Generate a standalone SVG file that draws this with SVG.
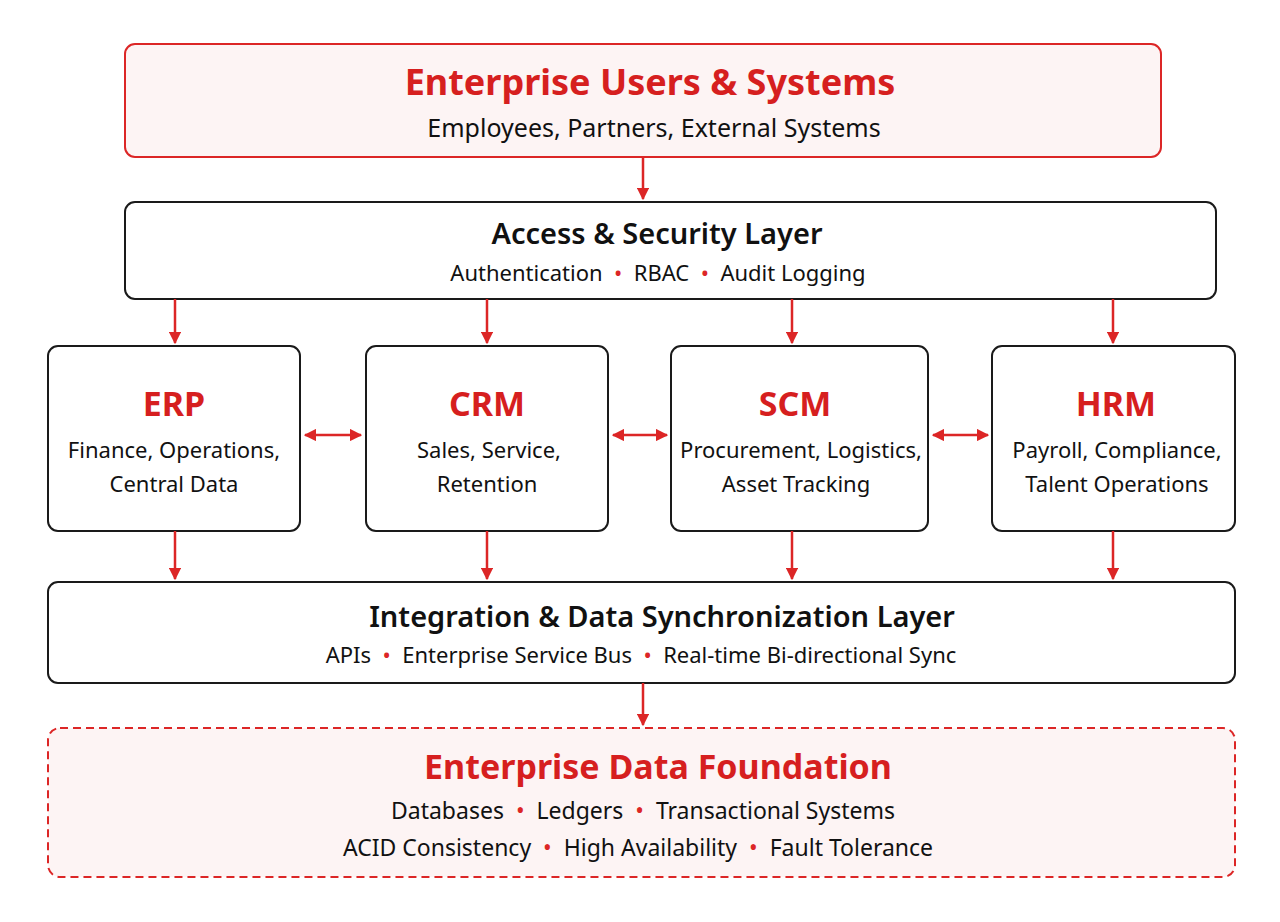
<svg xmlns="http://www.w3.org/2000/svg" width="1280" height="922" viewBox="0 0 1280 922">
<defs>
<style>
text{font-family:"Noto Sans","Open Sans","Liberation Sans",sans-serif;text-anchor:middle;fill:#111}
.box{fill:#fff;stroke:#1a1a1a;stroke-width:2}
.red{fill:#fdf4f4;stroke:#dc2626;stroke-width:2}
.t1{font-size:34px;font-weight:700;fill:#d61f1f}
.t2{font-size:29px;font-weight:600}
.s{font-size:23px}
.s2{font-size:22px}
.b{fill:#dc2626}
.c{stroke:#dc2626;stroke-width:2.5;fill:none}
</style>
<marker id="ah" viewBox="0 0 10 10" refX="9" refY="5" markerWidth="5" markerHeight="5" orient="auto-start-reverse"><path d="M0,0 L10,5 L0,10 Z" fill="#dc2626"/></marker>
</defs>
<rect width="1280" height="922" fill="#fff"/>
<g id="users"><rect class="red" x="125" y="44" width="1036" height="113" rx="10"/>
<text class="t1" x="650" y="95" style="font-size:36px">Enterprise Users &amp; Systems</text>
<text class="s" x="654" y="137" style="font-size:25px">Employees, Partners, External Systems</text></g>
<g id="access"><rect class="box" x="125" y="202" width="1091" height="97" rx="10"/>
<text class="t2" x="657" y="244">Access &amp; Security Layer</text>
<text class="s2" x="658" y="281">Authentication&#160;&#160;<tspan class="b">•</tspan>&#160;&#160;RBAC&#160;&#160;<tspan class="b">•</tspan>&#160;&#160;Audit Logging</text></g>
<g id="erp"><rect class="box" x="48" y="346" width="252" height="185" rx="10"/>
<text class="t1" x="174" y="416">ERP</text>
<text class="s2" x="174" y="458">Finance, Operations,</text><text class="s2" x="174" y="492">Central Data</text></g>
<g id="crm"><rect class="box" x="366" y="346" width="242" height="185" rx="10"/>
<text class="t1" x="487" y="416">CRM</text>
<text class="s2" x="489" y="458">Sales, Service,</text><text class="s2" x="487" y="492">Retention</text></g>
<g id="scm"><rect class="box" x="671" y="346" width="257" height="185" rx="10"/>
<text class="t1" x="795" y="416">SCM</text>
<text class="s2" x="801" y="458">Procurement, Logistics,</text><text class="s2" x="796" y="492">Asset Tracking</text></g>
<g id="hrm"><rect class="box" x="992" y="346" width="243" height="185" rx="10"/>
<text class="t1" x="1116" y="416">HRM</text>
<text class="s2" x="1117" y="458">Payroll, Compliance,</text><text class="s2" x="1117" y="492">Talent Operations</text></g>
<g id="integration"><rect class="box" x="48" y="582" width="1187" height="101" rx="10"/>
<text class="t2" x="662" y="627">Integration &amp; Data Synchronization Layer</text>
<text class="s2" x="641" y="663">APIs&#160;&#160;<tspan class="b">•</tspan>&#160;&#160;Enterprise Service Bus&#160;&#160;<tspan class="b">•</tspan>&#160;&#160;Real-time Bi-directional Sync</text></g>
<g id="foundation"><rect class="red" x="48" y="728" width="1187" height="149" rx="12" stroke-dasharray="8,5"/>
<text class="t1" x="658" y="779">Enterprise Data Foundation</text>
<text class="s" x="643" y="819">Databases&#160;&#160;<tspan class="b">•</tspan>&#160;&#160;Ledgers&#160;&#160;<tspan class="b">•</tspan>&#160;&#160;Transactional Systems</text>
<text class="s" x="638" y="856">ACID Consistency&#160;&#160;<tspan class="b">•</tspan>&#160;&#160;High Availability&#160;&#160;<tspan class="b">•</tspan>&#160;&#160;Fault Tolerance</text></g>
<g id="connectors" class="c" marker-end="url(#ah)">
<line x1="643" y1="157" x2="643" y2="199"/>
<line x1="175" y1="299" x2="175" y2="343"/><line x1="487" y1="299" x2="487" y2="343"/><line x1="792" y1="299" x2="792" y2="343"/><line x1="1113" y1="299" x2="1113" y2="343"/>
<line x1="305" y1="435" x2="361" y2="435" marker-start="url(#ah)"/>
<line x1="613" y1="435" x2="667" y2="435" marker-start="url(#ah)"/>
<line x1="933" y1="435" x2="988" y2="435" marker-start="url(#ah)"/>
<line x1="175" y1="531" x2="175" y2="579"/><line x1="487" y1="531" x2="487" y2="579"/><line x1="792" y1="531" x2="792" y2="579"/><line x1="1113" y1="531" x2="1113" y2="579"/>
<line x1="643" y1="683" x2="643" y2="725"/>
</g>
</svg>
